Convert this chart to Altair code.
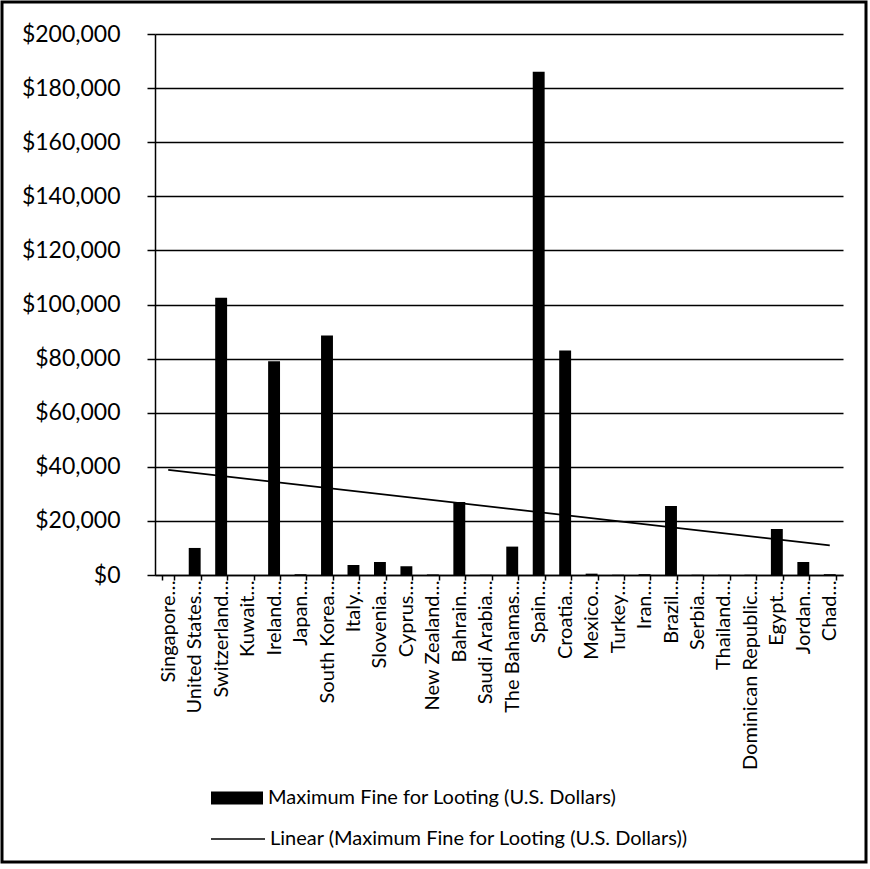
import altair as alt
import pandas as pd

countries = ["Singapore…", "United States…", "Switzerland…", "Kuwait…", "Ireland…",
             "Japan…", "South Korea…", "Italy…", "Slovenia…", "Cyprus…",
             "New Zealand…", "Bahrain…", "Saudi Arabia…", "The Bahamas…", "Spain…",
             "Croatia…", "Mexico…", "Turkey…", "Iran…", "Brazil…",
             "Serbia…", "Thailand…", "Dominican Republic…", "Egypt…", "Jordan…", "Chad…"]
fines = [0, 10000, 102500, 0, 79000,
         300, 88500, 3700, 4800, 3200,
         200, 27000, 100, 10500, 186000,
         83000, 500, 100, 300, 25500,
         100, 100, 100, 17000, 4800, 300]
y_ticks = list(range(0, 200001, 20000))

series_name = "Maximum Fine for Looting (U.S. Dollars)"
trend_name = "Linear (Maximum Fine for Looting (U.S. Dollars))"

df = pd.DataFrame({"country": countries, "value": fines,
                   "idx": list(range(1, len(countries) + 1))})

W, H = 688, 541
FONT = "Lato"

frame = alt.Chart(alt.Data(values=[{}])).mark_rect(
    filled=False, stroke="black", strokeWidth=3
).encode(x=alt.value(-153), x2=alt.value(711), y=alt.value(-32), y2=alt.value(828))

bars = alt.Chart(df).mark_bar().encode(
    x=alt.X("country:N", sort=None, title=None,
            scale=alt.Scale(paddingInner=0.55, paddingOuter=0.275),
            axis=alt.Axis(labelAngle=270, labelFontSize=20, labelFont=FONT,
                          labelColor="black", tickBand="extent", tickSize=5,
                          tickColor="black", tickWidth=1.5, domainColor="black",
                          domainWidth=1.5, labelPadding=0, labelLimit=400, grid=False)),
    y=alt.Y("value:Q", title=None,
            scale=alt.Scale(domain=[0, 200000], nice=False),
            axis=alt.Axis(values=y_ticks, format="$,.0f", labelFontSize=23, labelFont=FONT,
                          labelColor="black", tickSize=8, tickColor="black", tickWidth=1.5,
                          domainColor="black", domainWidth=1.5, labelPadding=27,
                          grid=True, gridColor="black", gridWidth=1.5)),
    fill=alt.Fill("s:N", scale=alt.Scale(domain=[series_name], range=["black"]),
                  legend=alt.Legend(title=None, orient="none", legendX=55, legendY=737,
                                    symbolType="M-1,-0.25L1,-0.25L1,0.25L-1,0.25Z",
                                    symbolSize=2704, labelFontSize=20, labelFont=FONT,
                                    labelColor="black", labelOffset=4, labelLimit=600)),
).transform_calculate(s=f"'{series_name}'")

trend = alt.Chart(df).transform_regression("idx", "value", method="linear").transform_calculate(
    t=f"'{trend_name}'"
).mark_line(strokeWidth=1.8).encode(
    x=alt.X("idx:Q", scale=alt.Scale(domain=[0.5, 26.5], nice=False, zero=False), axis=None),
    y=alt.Y("value:Q"),
    stroke=alt.Stroke("t:N", scale=alt.Scale(domain=[trend_name], range=["black"]),
                      legend=alt.Legend(title=None, orient="none", legendX=55, legendY=777,
                                        symbolType="stroke", symbolSize=2916,
                                        symbolStrokeWidth=1.5, labelFontSize=20,
                                        labelFont=FONT, labelColor="black", labelOffset=4,
                                        labelLimit=600)),
)

chart = alt.layer(frame, bars, trend).resolve_scale(
    x="independent", fill="independent", stroke="independent"
).properties(width=W, height=H, padding=0, background="white").configure_view(
    stroke="transparent"
)

chart.save("out.html", embed_options={"renderer": "svg", "actions": False})
